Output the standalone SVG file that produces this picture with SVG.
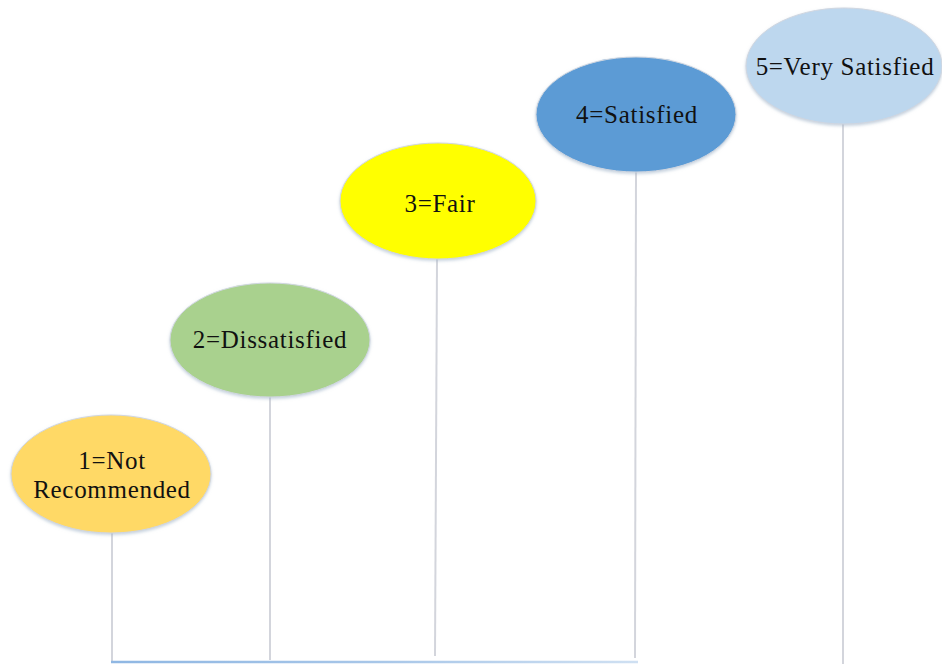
<svg xmlns="http://www.w3.org/2000/svg" width="942" height="664" viewBox="0 0 942 664">
  <defs>
    <linearGradient id="baseGrad" x1="112" y1="0" x2="638" y2="0" gradientUnits="userSpaceOnUse">
      <stop offset="0" stop-color="#8fb7e3"/>
      <stop offset="0.5" stop-color="#a7c6e8"/>
      <stop offset="1" stop-color="#cfe0f2"/>
    </linearGradient>
    <filter id="soft" x="-10%" y="-10%" width="120%" height="130%">
      <feDropShadow dx="0" dy="1.5" stdDeviation="1.5" flood-color="#9fb3c8" flood-opacity="0.6"/>
    </filter>
  </defs>
  <style>
    .stem { stroke: #d3d5dc; stroke-width: 2; fill: none; }
    .node ellipse { stroke: #d0d6e0; stroke-width: 1; filter: url(#soft); }
    .label { font-family: "Liberation Serif", "Times New Roman", serif; font-size: 25px; letter-spacing: 0.7px; fill: #111111; text-anchor: middle; }
  </style>
  <rect width="942" height="664" fill="#ffffff"/>

  <!-- stems and base line -->
  <g id="connectors">
    <line class="stem" x1="112" y1="533" x2="112" y2="662"/>
    <line class="stem" x1="270" y1="397" x2="270" y2="660"/>
    <line class="stem" x1="437" y1="259" x2="435" y2="656"/>
    <line class="stem" x1="636" y1="172" x2="635" y2="658"/>
    <line class="stem" x1="843" y1="124" x2="843" y2="664"/>
    <line x1="111" y1="662" x2="638" y2="662" stroke="url(#baseGrad)" stroke-width="2.5"/>
  </g>

  <g id="node1" class="node">
    <ellipse cx="111" cy="474" rx="100" ry="59" fill="#ffd966"/>
    <text class="label" x="112" y="469">1=Not</text>
    <text class="label" x="112" y="498">Recommended</text>
  </g>

  <g id="node2" class="node">
    <ellipse cx="270" cy="340" rx="100" ry="57" fill="#a9d18e"/>
    <text class="label" x="270" y="348">2=Dissatisfied</text>
  </g>

  <g id="node3" class="node">
    <ellipse cx="438" cy="201" rx="98" ry="58" fill="#ffff00"/>
    <text class="label" x="440" y="212">3=Fair</text>
  </g>

  <g id="node4" class="node">
    <ellipse cx="636" cy="114.5" rx="100" ry="57.5" fill="#5b9bd5"/>
    <text class="label" x="637" y="123">4=Satisfied</text>
  </g>

  <g id="node5" class="node">
    <ellipse cx="844" cy="66" rx="98" ry="58" fill="#bdd7ee"/>
    <text class="label" x="845" y="75">5=Very Satisfied</text>
  </g>
</svg>
